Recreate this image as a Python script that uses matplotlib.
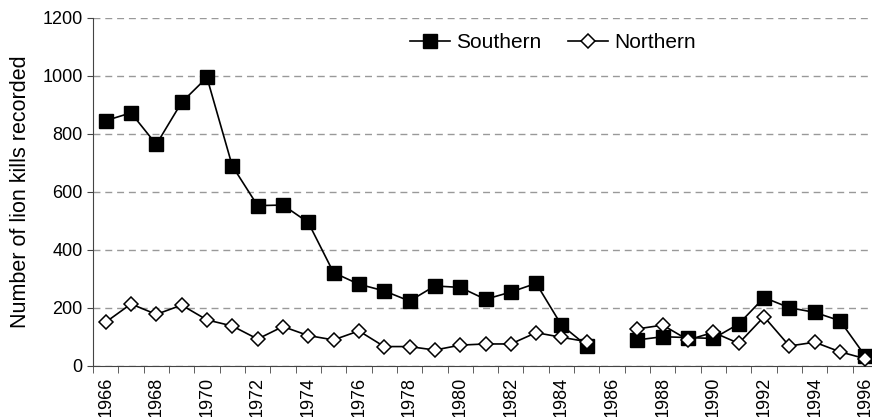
import matplotlib.pyplot as plt
import numpy as np

plt.rcParams['font.family'] = ['Liberation Sans', 'DejaVu Sans']

years = list(range(1966, 1997))
# 1986 missing -> NaN
southern = [846, 873, 764, 909, 995, 690, 553, 555, 495, 322, 282, 259, 224, 276, 271,
            230, 255, 285, 141, 70, np.nan, 90, 101, 98, 95, 145, 236, 201, 185, 156, 34]
northern = [151, 214, 178, 210, 159, 138, 93, 136, 105, 90, 121, 67, 67, 55, 72,
            76, 76, 115, 99, 84, np.nan, 128, 141, 90, 116, 78, 170, 69, 82, 49, 25]

fig = plt.figure(figsize=(8.72, 4.17), dpi=100)
ax = fig.add_axes([93 / 872, 51 / 417, 785 / 872, 348 / 417])

x = np.arange(len(years))
ax.plot(x, southern, color='black', lw=1.2, marker='s', ms=10, mfc='black', mec='black',
        label='Southern', zorder=3)
ax.plot(x, northern, color='black', lw=1.2, marker='D', ms=7.5, mfc='white', mec='black',
        mew=1.1, label='Northern', zorder=4)

ax.set_ylim(0, 1200)
ax.set_xlim(-0.5, len(years) - 0.5)
ax.set_yticks(range(0, 1201, 200))
ax.yaxis.grid(True, ls=(0, (5, 3.5)), color='#999999', lw=1)
ax.set_axisbelow(True)

ax.set_xticks(x[::2])
ax.set_xticklabels([str(y) for y in years[::2]], rotation=90)
ax.set_xticks(np.arange(-0.5, len(years), 1), minor=True)
ax.tick_params(axis='x', which='major', length=0, pad=8, labelsize=13)
ax.tick_params(axis='x', which='minor', length=5, color='#444444')
ax.tick_params(axis='y', length=4, color='#444444', labelsize=13)

for s in ['top', 'right']:
    ax.spines[s].set_visible(False)
for s in ['left', 'bottom']:
    ax.spines[s].set_color('#444444')

ax.set_ylabel('Number of lion kills recorded', fontsize=15.5, labelpad=8)
ax.legend(loc='center', bbox_to_anchor=(0.586, 0.93), ncol=2, frameon=False,
          fontsize=15, handlelength=1.9, columnspacing=1.3, handletextpad=0.3)

fig.savefig('out.png', dpi=100)
